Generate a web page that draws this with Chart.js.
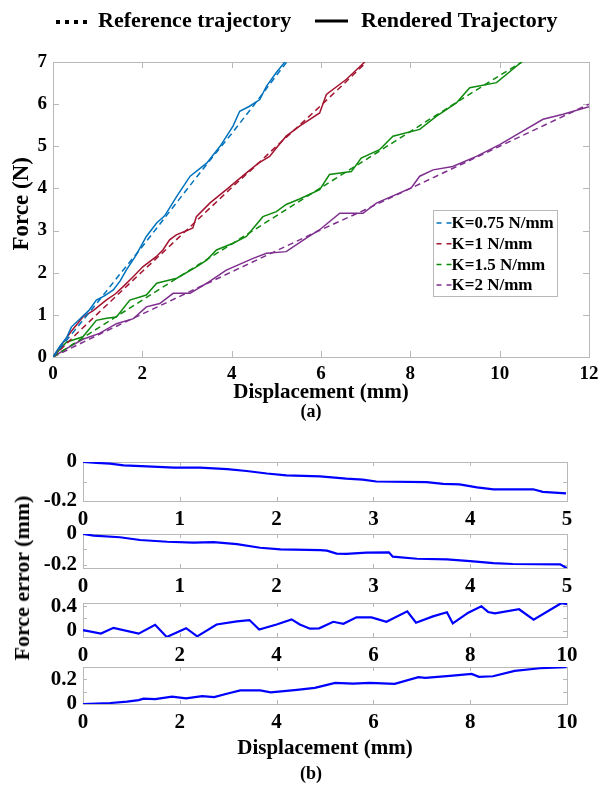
<!DOCTYPE html>
<html><head><meta charset="utf-8">
<script src="https://cdn.jsdelivr.net/npm/chart.js@4.4.0/dist/chart.umd.min.js"></script>
<style>
html,body{margin:0;padding:0;background:#fff;width:600px;height:785px;overflow:hidden;position:relative;}
canvas{position:absolute;left:0;}
.t{position:absolute;font-family:'Liberation Serif','Times New Roman',serif;font-weight:bold;color:#000;white-space:nowrap;line-height:1;}
</style></head><body>
<canvas id="c0" style="top:0px" width="600" height="430"></canvas>
<canvas id="c1" style="top:452px" width="600" height="83"></canvas>
<canvas id="c2" style="top:524px" width="600" height="78"></canvas>
<canvas id="c3" style="top:593px" width="600" height="78"></canvas>
<canvas id="c4" style="top:657px" width="600" height="128"></canvas>
<div class="t" style="left:311px;top:411px;font-size:18px;transform:translate(-50%,-50%)">(a)</div>
<div class="t" style="left:311px;top:773px;font-size:18px;transform:translate(-50%,-50%)">(b)</div>
<div class="t" style="left:22px;top:578px;font-size:22px;transform:translate(-50%,-50%) rotate(-90deg)">Force error (mm)</div>
<script>
// ---------- DATA ----------
const styleLegend = ['Reference trajectory', 'Rendered Trajectory'];
const kLabels = ['K=0.75 N/mm', 'K=1 N/mm', 'K=1.5 N/mm', 'K=2 N/mm'];
const topXTicks = [0, 2, 4, 6, 8, 10, 12];
const topYTicks = [0, 1, 2, 3, 4, 5, 6, 7];

// K = 0.75 N/mm
const k075RefX = [0, 0.5, 1, 1.5, 2, 2.5, 3, 3.5, 4, 4.5, 5, 5.25];
const k075RefF = [0, 0.65, 1.3, 1.97, 2.62, 3.3, 3.98, 4.65, 5.3, 5.98, 6.68, 7.02];
const k075RenX = [0, 0.15, 0.3, 0.41, 0.6, 0.8, 0.97, 1.15, 1.35, 1.5, 1.64, 1.85, 2.09, 2.32, 2.5, 2.77, 3.07, 3.44, 3.74, 4.03, 4.18, 4.4, 4.63, 4.78, 5.0, 5.19];
const k075RenF = [0, 0.25, 0.45, 0.71, 0.9, 1.1, 1.35, 1.45, 1.59, 1.8, 2.06, 2.4, 2.86, 3.18, 3.35, 3.81, 4.29, 4.6, 5.0, 5.48, 5.83, 5.95, 6.11, 6.43, 6.75, 7.0];
// K = 1 N/mm
const k1RefX = [0, 0.5, 1, 1.5, 2, 2.5, 3, 3.5, 4, 4.5, 5, 5.5, 6, 6.5, 7];
const k1RefF = [0, 0.52, 1.03, 1.53, 2.03, 2.52, 3.02, 3.52, 4.02, 4.5, 5.0, 5.48, 5.97, 6.47, 6.98];
const k1RenX = [0, 0.2, 0.4, 0.67, 0.9, 1.19, 1.4, 1.57, 1.79, 2.01, 2.31, 2.46, 2.61, 2.76, 3.0, 3.13, 3.21, 3.51, 3.88, 4.33, 4.6, 4.85, 5.0, 5.22, 5.52, 5.97, 6.12, 6.57, 6.98];
const k1RenF = [0, 0.3, 0.6, 0.95, 1.1, 1.35, 1.5, 1.67, 1.9, 2.14, 2.38, 2.54, 2.78, 2.9, 3.0, 3.06, 3.33, 3.65, 3.97, 4.37, 4.6, 4.76, 4.96, 5.24, 5.48, 5.79, 6.23, 6.59, 7.0];
// K = 1.5 N/mm
const k15RefX = [0, 1, 2, 3, 4, 5, 6, 7, 8, 9, 10, 10.5];
const k15RefF = [0, 0.68, 1.35, 2.02, 2.68, 3.35, 4.02, 4.68, 5.35, 6.02, 6.68, 7.0];
const k15RenX = [0, 0.3, 0.5, 0.67, 0.97, 1.2, 1.42, 1.72, 2.09, 2.32, 2.77, 3.21, 3.44, 3.66, 4.03, 4.33, 4.7, 5.0, 5.22, 5.52, 5.97, 6.19, 6.68, 6.9, 7.31, 7.61, 8.21, 8.58, 9.03, 9.33, 9.93, 10.49];
const k15RenF = [0, 0.35, 0.42, 0.48, 0.87, 0.92, 0.95, 1.35, 1.47, 1.75, 1.87, 2.14, 2.3, 2.54, 2.7, 2.86, 3.33, 3.45, 3.62, 3.75, 3.97, 4.33, 4.4, 4.72, 4.92, 5.24, 5.4, 5.71, 6.03, 6.39, 6.51, 7.0];
// K = 2 N/mm
const k2RefX = [0, 1, 2, 3, 4, 5, 6, 7, 8, 9, 10, 11, 12];
const k2RefF = [0, 0.52, 1.02, 1.52, 2.02, 2.52, 3.02, 3.5, 4.0, 4.5, 5.0, 5.5, 6.0];
const k2RenX = [0, 0.3, 0.67, 1.04, 1.42, 1.8, 2.09, 2.39, 2.69, 3.07, 3.44, 3.88, 4.48, 4.78, 5.22, 5.67, 5.97, 6.42, 6.94, 7.24, 8.02, 8.21, 8.51, 8.95, 9.48, 10.0, 10.45, 10.97, 11.42, 12.0];
const k2RenF = [0, 0.2, 0.42, 0.56, 0.79, 0.91, 1.19, 1.27, 1.51, 1.51, 1.75, 2.06, 2.34, 2.46, 2.5, 2.82, 3.02, 3.41, 3.41, 3.65, 4.01, 4.29, 4.44, 4.52, 4.76, 5.04, 5.32, 5.64, 5.76, 5.94];

// Error subplots
const err1X = [0, 0.14, 0.28, 0.42, 0.66, 0.94, 1.21, 1.49, 1.69, 1.9, 2.1, 2.45, 2.72, 2.89, 3.03, 3.55, 3.72, 3.89, 4.07, 4.24, 4.65, 4.75, 4.99];
const err1Y = [0, -0.005, -0.008, -0.017, -0.022, -0.029, -0.029, -0.037, -0.046, -0.059, -0.069, -0.074, -0.085, -0.09, -0.1, -0.103, -0.112, -0.115, -0.13, -0.14, -0.14, -0.153, -0.161];
const err2X = [0, 0.11, 0.38, 0.59, 0.87, 1.14, 1.35, 1.59, 1.83, 2.04, 2.18, 2.45, 2.52, 2.62, 2.72, 2.93, 3.16, 3.2, 3.45, 3.76, 4.0, 4.24, 4.44, 4.93, 5.0];
const err2Y = [0, -0.011, -0.021, -0.039, -0.05, -0.056, -0.052, -0.065, -0.089, -0.099, -0.101, -0.104, -0.108, -0.127, -0.129, -0.121, -0.119, -0.147, -0.16, -0.164, -0.175, -0.188, -0.194, -0.196, -0.222];
const err3X = [0, 0.37, 0.63, 1.15, 1.49, 1.73, 2.13, 2.36, 2.76, 3.18, 3.44, 3.64, 4.0, 4.31, 4.48, 4.69, 4.88, 5.17, 5.38, 5.65, 5.96, 6.27, 6.7, 6.88, 7.23, 7.52, 7.64, 7.96, 8.23, 8.37, 8.51, 9.01, 9.31, 9.88, 10];
const err3Y = [0.01, -0.045, 0.048, -0.045, 0.097, -0.1, 0.043, -0.089, 0.103, 0.152, 0.174, 0.021, 0.103, 0.185, 0.103, 0.035, 0.04, 0.146, 0.113, 0.218, 0.218, 0.146, 0.316, 0.13, 0.234, 0.3, 0.12, 0.293, 0.398, 0.305, 0.284, 0.349, 0.179, 0.447, 0.43];
const err4X = [0, 0.56, 0.91, 1.15, 1.25, 1.49, 1.84, 2.13, 2.46, 2.71, 2.97, 3.25, 3.66, 3.88, 4.42, 4.79, 5.21, 5.58, 5.93, 6.44, 6.93, 7.07, 7.58, 8.03, 8.18, 8.47, 8.92, 9.44, 9.99];
const err4Y = [0, 0.008, 0.019, 0.032, 0.043, 0.04, 0.059, 0.045, 0.064, 0.056, 0.083, 0.11, 0.11, 0.094, 0.115, 0.131, 0.171, 0.166, 0.171, 0.163, 0.217, 0.212, 0.228, 0.244, 0.22, 0.225, 0.268, 0.29, 0.298];

const err1XTicks = [0, 1, 2, 3, 4, 5];
const err1YTicks = [-0.2, -0.1, 0];
const err1YLabels = [-0.2, 0];
const err2XTicks = [0, 1, 2, 3, 4, 5];
const err2YTicks = [-0.2, -0.1, 0];
const err2YLabels = [-0.2, 0];
const err3XTicks = [0, 2, 4, 6, 8, 10];
const err3YTicks = [0, 0.2, 0.4];
const err3YLabels = [0, 0.4];
const err4XTicks = [0, 2, 4, 6, 8, 10];
const err4YTicks = [0, 0.1, 0.2];
const err4YLabels = [0, 0.2];

// ---------- RENDERING ----------
const FONT = "'Liberation Serif','Times New Roman',serif";
const COLORS = ['#0072BD', '#A2142F', '#0E8A0E', '#7E2F8E'];
const FRAME = '#b8b8b8';
const pts = (xs, ys) => xs.map((x, i) => ({x: x, y: ys[i]}));
Chart.defaults.font.family = FONT;
Chart.defaults.color = '#000';

const framePlugin = {
  id: 'frame',
  beforeDatasetsDraw(chart, args, opts) {
    const {ctx, chartArea: a, scales: {x, y}} = chart;
    const L = opts.len || 5;
    ctx.save();
    ctx.strokeStyle = FRAME; ctx.lineWidth = 1;
    ctx.beginPath();
    x.ticks.forEach(t => {
      const px = Math.round(x.getPixelForValue(t.value)) + 0.5;
      ctx.moveTo(px, a.bottom); ctx.lineTo(px, a.bottom - L);
      ctx.moveTo(px, a.top); ctx.lineTo(px, a.top + L);
    });
    y.ticks.forEach(t => {
      const py = Math.round(y.getPixelForValue(t.value)) + 0.5;
      ctx.moveTo(a.left, py); ctx.lineTo(a.left + L, py);
      ctx.moveTo(a.right, py); ctx.lineTo(a.right - L, py);
    });
    ctx.stroke();
    ctx.strokeRect(Math.round(a.left) + 0.5, Math.round(a.top) + 0.5, Math.round(a.right - a.left), Math.round(a.bottom - a.top));
    ctx.restore();
  }
};

const legendsPlugin = {
  id: 'legends',
  afterDatasetsDraw(chart) {
    const ctx = chart.ctx, a = chart.chartArea;
    ctx.save();
    // inner legend
    const bx = a.left + 380.5, by = a.top + 148.5, bw = 124, bh = 86;
    ctx.fillStyle = '#fff';
    ctx.fillRect(bx, by, bw, bh);
    ctx.strokeStyle = FRAME; ctx.lineWidth = 1;
    ctx.strokeRect(bx, by, bw, bh);
    ctx.font = 'bold 17px ' + FONT;
    ctx.textBaseline = 'middle'; ctx.textAlign = 'left';
    const refs = chart.data.datasets.filter(d => d.isRef);
    refs.forEach((d, i) => {
      const yy = by + 12.5 + i * 20.7;
      ctx.strokeStyle = d.borderColor; ctx.lineWidth = 1.5; ctx.setLineDash([5, 5]);
      ctx.beginPath(); ctx.moveTo(bx + 3, yy); ctx.lineTo(bx + 19, yy); ctx.stroke();
      ctx.setLineDash([]);
      ctx.fillStyle = '#000';
      ctx.fillText(d.label, bx + 18, yy + 1);
    });
    // top style legend
    ctx.font = 'bold 22px ' + FONT;
    ctx.strokeStyle = '#000';
    ctx.lineWidth = 4; ctx.setLineDash([4, 5]);
    ctx.beginPath(); ctx.moveTo(56, 22); ctx.lineTo(90, 22); ctx.stroke();
    ctx.setLineDash([]);
    ctx.fillStyle = '#000';
    ctx.fillText(styleLegend[0], 98, 21);
    ctx.lineWidth = 3;
    ctx.beginPath(); ctx.moveTo(315, 21); ctx.lineTo(348, 21); ctx.stroke();
    ctx.fillText(styleLegend[1], 361, 21);
    ctx.restore();
  }
};

function fixTicks(list) { return function (scale) { scale.ticks = list.map(v => ({value: v})); }; }
function fitY(w) { return function (s) { s.width = w; s.paddingTop = 0; s.paddingBottom = 0; }; }
function fitX(h) { return function (s) { s.height = h; s.paddingLeft = 0; s.paddingRight = 0; }; }

// Top chart
const topSets = [];
const refXs = [k075RefX, k1RefX, k15RefX, k2RefX], refFs = [k075RefF, k1RefF, k15RefF, k2RefF];
const renXs = [k075RenX, k1RenX, k15RenX, k2RenX], renFs = [k075RenF, k1RenF, k15RenF, k2RenF];
for (let i = 0; i < 4; i++) {
  topSets.push({label: kLabels[i], isRef: true, data: pts(refXs[i], refFs[i]), borderColor: COLORS[i], borderWidth: 1.5, borderDash: [6, 4], pointRadius: 0, tension: 0});
  topSets.push({label: kLabels[i] + ' rendered', isRef: false, data: pts(renXs[i], renFs[i]), borderColor: COLORS[i], borderWidth: 1.5, pointRadius: 0, tension: 0});
}

new Chart(document.getElementById('c0'), {
  type: 'line',
  data: {datasets: topSets},
  plugins: [framePlugin, legendsPlugin],
  options: {
    responsive: false, animation: false, events: [], devicePixelRatio: 1,
    layout: {padding: {top: 62, left: 0, right: 11, bottom: 0}},
    plugins: {legend: {display: false}, tooltip: {enabled: false}, frame: {len: 6}},
    scales: {
      x: {type: 'linear', min: 0, max: 12, afterBuildTicks: fixTicks(topXTicks),
          afterFit: fitX(73),
          grid: {display: false, drawTicks: false}, border: {display: false},
          ticks: {padding: 6, font: {size: 19, weight: 'bold'}, maxRotation: 0, autoSkip: false},
          title: {display: true, text: 'Displacement (mm)', font: {size: 21, weight: 'bold'}, padding: {top: 0, bottom: 25}}},
      y: {type: 'linear', min: 0, max: 7, afterBuildTicks: fixTicks(topYTicks),
          afterFit: fitY(53),
          grid: {display: false, drawTicks: false}, border: {display: false},
          ticks: {padding: 6, font: {size: 19, weight: 'bold'}, autoSkip: false},
          title: {display: true, text: '  Force (N)', font: {size: 23, weight: 'bold'}, padding: {top: 8, bottom: 0}}}
    }
  }
});

function errChart(id, xs, ys, xmax, ymin, ymax, xTicks, yTicks, yLabels, axisH, xTitle) {
  new Chart(document.getElementById(id), {
    type: 'line',
    data: {datasets: [{label: 'error', data: pts(xs, ys), borderColor: '#0000FF', borderWidth: 2.2, pointRadius: 0, tension: 0}]},
    plugins: [framePlugin],
    options: {
      responsive: false, animation: false, events: [], devicePixelRatio: 1,
      layout: {padding: {top: 10, left: 0, right: 33, bottom: 0}},
      plugins: {legend: {display: false}, tooltip: {enabled: false}, frame: {len: 4}},
      scales: {
        x: {type: 'linear', min: 0, max: xmax, afterBuildTicks: fixTicks(xTicks),
            afterFit: fitX(axisH),
            grid: {display: false, drawTicks: false}, border: {display: false},
            ticks: {padding: 6, font: {size: 21, weight: 'bold'}, maxRotation: 0, autoSkip: false},
            title: {display: !!xTitle, text: xTitle || '', font: {size: 21, weight: 'bold'}, padding: {top: 0, bottom: 24}}},
        y: {type: 'linear', min: ymin, max: ymax, afterBuildTicks: fixTicks(yTicks),
            afterFit: fitY(83),
            grid: {display: false, drawTicks: false}, border: {display: false},
            ticks: {padding: 6, font: {size: 21, weight: 'bold'}, autoSkip: false,
                    callback: v => (yLabels.indexOf(v) >= 0 ? String(v) : '')}}
      }
    }
  });
}

errChart('c1', err1X, err1Y, 5, -0.2, 0, err1XTicks, err1YTicks, err1YLabels, 34);
errChart('c2', err2X, err2Y, 5, -0.22, 0, err2XTicks, err2YTicks, err2YLabels, 34);
errChart('c3', err3X, err3Y, 10, -0.1, 0.45, err3XTicks, err3YTicks, err3YLabels, 34);
errChart('c4', err4X, err4Y, 10, 0, 0.3, err4XTicks, err4YTicks, err4YLabels, 81, 'Displacement (mm)');
</script>
</body></html>
